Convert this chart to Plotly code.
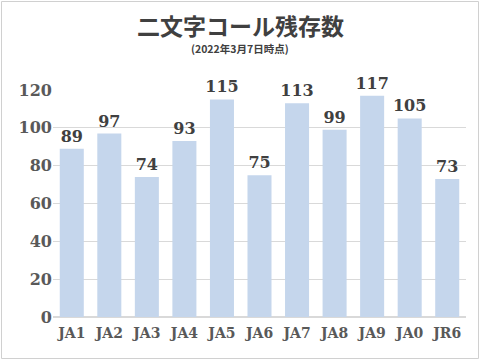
import plotly.graph_objects as go

categories = ["JA1", "JA2", "JA3", "JA4", "JA5", "JA6", "JA7", "JA8", "JA9", "JA0", "JR6"]
values = [89, 97, 74, 93, 115, 75, 113, 99, 117, 105, 73]
y_ticks = [0, 20, 40, 60, 80, 100, 120]

serif = "DejaVu Serif, Liberation Serif, serif"

fig = go.Figure(go.Bar(
    x=categories, y=values,
    marker=dict(color="#C5D6EC", line=dict(width=0)),
    text=[str(v) for v in values], textposition="outside",
    textfont=dict(family=serif, size=16, color="#404040", weight="bold"),
    constraintext="none",
    cliponaxis=False, width=0.64,
))

W, H = 480, 360
L, R, T, B = 53, 14, 90, 43
pw, ph = W - L - R, H - T - B

def px(x):
    return (x - L) / pw

def py(y):
    return (H - B - y) / ph

fig.update_layout(
    width=W, height=H,
    margin=dict(l=L, r=R, t=T, b=B),
    paper_bgcolor="white", plot_bgcolor="white",
    showlegend=False,
    xaxis=dict(showgrid=False, showline=False, ticks="", ticklabelstandoff=6,
               tickfont=dict(family=serif, size=14, color="#595959", weight="bold")),
    yaxis=dict(range=[0, 120], tickvals=y_ticks, showgrid=True, gridcolor="#D9D9D9",
               gridwidth=1, zeroline=True, zerolinecolor="#D9D9D9", showline=False,
               ticks="", tickfont=dict(family=serif, size=16, color="#595959", weight="bold")),
    annotations=[
        dict(text="<b>二文字コール残存数</b>", x=0.5, xref="paper", y=py(25), yref="paper",
             xanchor="center", yanchor="middle", showarrow=False,
             font=dict(family="Noto Sans CJK JP", size=23, color="#404040"),
             xshift=(W / 2 - (L + pw / 2))),
        dict(text="<b>(2022年3月7日時点)</b>", x=0.5, xref="paper", y=py(49), yref="paper",
             xanchor="center", yanchor="middle", showarrow=False,
             font=dict(family="Noto Sans CJK JP", size=10.5, color="#404040"),
             xshift=(W / 2 - (L + pw / 2))),
    ],
    shapes=[
        dict(type="rect", xref="paper", yref="paper",
             x0=px(1.5), x1=px(478.5), y0=py(358.5), y1=py(1.5),
             line=dict(color="#D0D0D0", width=1), fillcolor="rgba(0,0,0,0)", layer="below"),
    ],
)

fig.write_html("out.html", config={"displayModeBar": False},
               post_script="document.body.style.margin='0';document.body.style.overflow='hidden';")
